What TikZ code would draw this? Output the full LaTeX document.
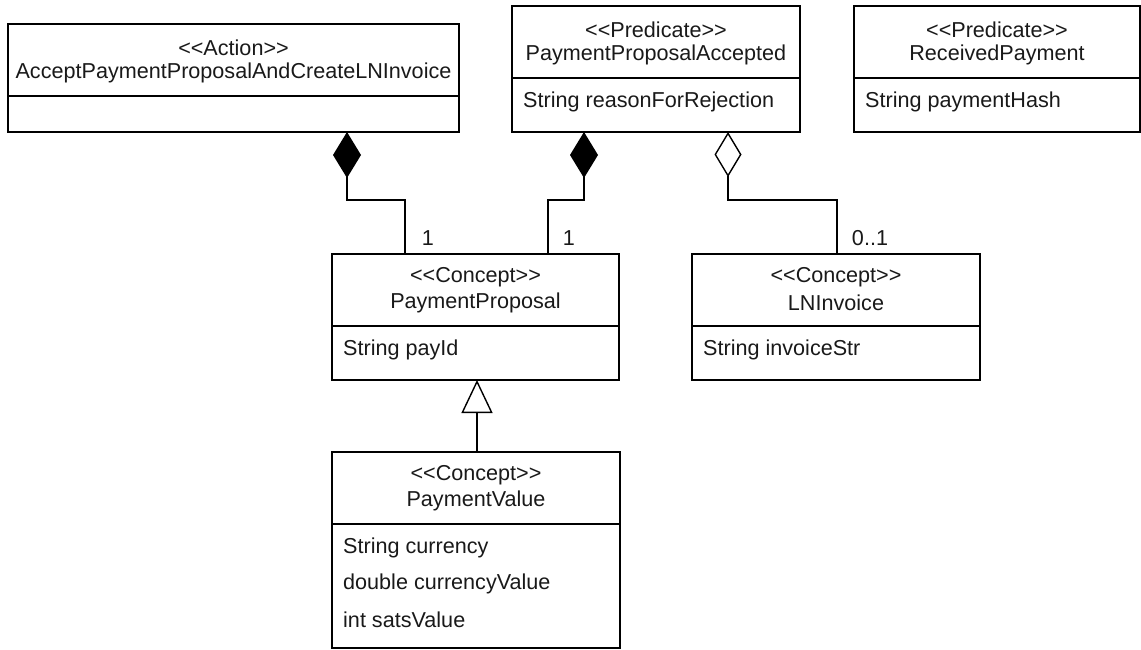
\documentclass[tikz,border=0pt]{standalone}
\usepackage{fontspec}
\setmainfont{Liberation Sans}[Ligatures=TeXOff]
\usetikzlibrary{arrows.meta,calc}
\begin{document}
\begin{tikzpicture}[x=1pt,y=-1pt,
  box/.style={draw, line width=1.4pt, anchor=north west, inner sep=0pt, outer sep=0pt},
  txt/.style={font=\fontsize{21.6}{25}\selectfont, inner sep=0pt, text=black!90},
  att/.style={txt, anchor=west},
  conn/.style={line width=1.4pt},
  compo/.style={conn, -{Diamond[length=46pt, width=28pt, line width=1.4pt]}},
  aggr/.style={conn, -{Diamond[open, length=45pt, width=27pt, line width=1.4pt]}},
  gen/.style={conn, -{Triangle[open, length=33pt, width=31pt, line width=1.4pt]}}
]
\useasboundingbox (0,0) rectangle (1141,650);

% boxes
\node[box, minimum width=451pt, minimum height=108pt] (act) at (8,24) {};
\node[box, minimum width=288pt, minimum height=126pt] (ppa) at (512,6) {};
\node[box, minimum width=286pt, minimum height=126pt] (rp) at (854,6) {};
\node[box, minimum width=287pt, minimum height=126pt] (pp) at (332,254) {};
\node[box, minimum width=288pt, minimum height=126pt] (ln) at (692,254) {};
\node[box, minimum width=288pt, minimum height=196pt] (pv) at (332,452) {};

% dividers
\draw[conn] (act.west |- 0,96) -- (act.east |- 0,96);
\draw[conn] (ppa.west |- 0,78) -- (ppa.east |- 0,78);
\draw[conn] (rp.west |- 0,78) -- (rp.east |- 0,78);
\draw[conn] (pp.west |- 0,326) -- (pp.east |- 0,326);
\draw[conn] (ln.west |- 0,326) -- (ln.east |- 0,326);
\draw[conn] (pv.west |- 0,524) -- (pv.east |- 0,524);

% header texts
\node[txt] (actS) at (act.north |- 0,47.5) {<<Action>>};
\node[txt] (actN) at (act.north |- 0,72.5) {AcceptPaymentProposalAndCreateLNInvoice};
\node[txt] (ppaS) at (ppa.north |- 0,30) {<<Predicate>>};
\node[txt] (ppaN) at (ppa.north |- 0,55) {PaymentProposalAccepted};
\node[txt] (rpS) at (rp.north |- 0,30) {<<Predicate>>};
\node[txt] (rpN) at (rp.north |- 0,55) {ReceivedPayment};
\node[txt] (ppS) at (pp.north |- 0,277.5) {<<Concept>>};
\node[txt] (ppN) at (pp.north |- 0,302.5) {PaymentProposal};
\node[txt] (lnS) at (ln.north |- 0,277.5) {<<Concept>>};
\node[txt] (lnN) at (ln.north |- 0,302.5) {LNInvoice};
\node[txt] (pvS) at (pv.north |- 0,475.5) {<<Concept>>};
\node[txt] (pvN) at (pv.north |- 0,500.5) {PaymentValue};

% attributes
\node[att] (ppaA) at ($(ppa.west |- 0,102)+(11,0)$) {String reasonForRejection};
\node[att] (rpA) at ($(rp.west |- 0,102)+(11,0)$) {String paymentHash};
\node[att] (ppA) at ($(pp.west |- 0,350)+(11,0)$) {String payId};
\node[att] (lnA) at ($(ln.west |- 0,350)+(11,0)$) {String invoiceStr};
\node[att] (pvA1) at ($(pv.west |- 0,548)+(11,0)$) {String currency};
\node[att] (pvA2) at ($(pv.west |- 0,584)+(11,0)$) {double currencyValue};
\node[att] (pvA3) at ($(pv.west |- 0,620)+(11,0)$) {int satsValue};

% connectors
\draw[compo] ($(pp.north west)+(73,0)$) |- ($(act.south west)+(339,68)$) -- ($(act.south west)+(339,0)$);
\draw[compo] ($(pp.north west)+(216,0)$) |- ($(ppa.south west)+(72,68)$) -- ($(ppa.south west)+(72,0)$);
\draw[aggr] ($(ln.north west)+(145,0)$) |- ($(ppa.south west)+(216,68)$) -- ($(ppa.south west)+(216,0)$);
\draw[gen] ($(pv.north west)+(145,0)$) -- ($(pp.south west)+(145,0)$);

% multiplicities
\node[txt] (m1) at (428,238) {1};
\node[txt] (m2) at (569,238) {1};
\node[txt] (m3) at (870,238) {0..1};
\end{tikzpicture}
\end{document}
